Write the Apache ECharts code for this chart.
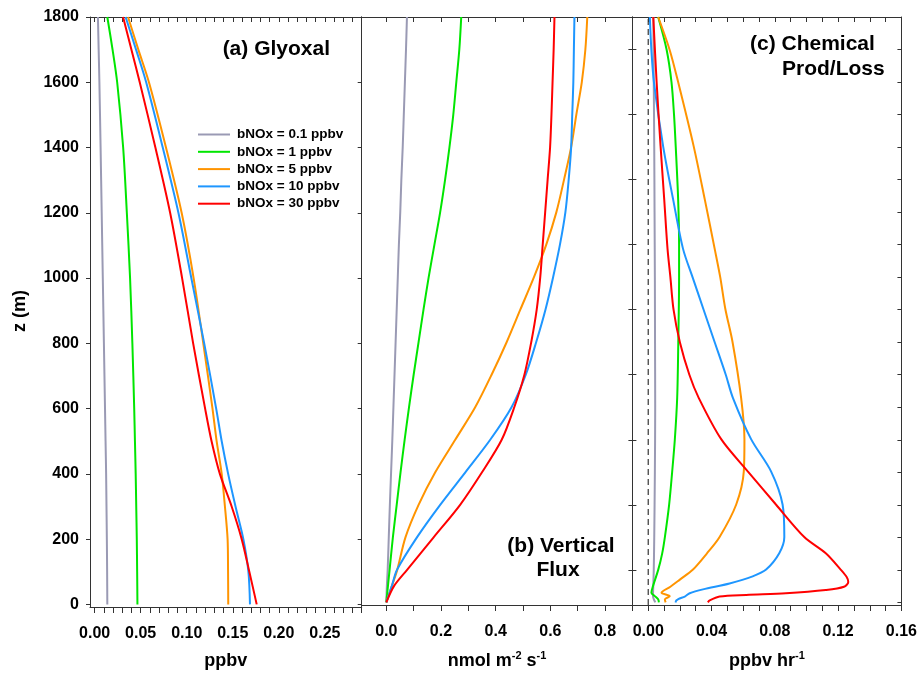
<!DOCTYPE html>
<html><head><meta charset="utf-8">
<script src="https://cdn.jsdelivr.net/npm/echarts@6/dist/echarts.min.js"></script>
<style>html,body{margin:0;padding:0;background:#fff}#c{width:920px;height:675px}</style>
</head><body><div id="c"></div>
<script>
// ---------- data ----------
const seriesNames = ['bNOx = 0.1 ppbv','bNOx = 1 ppbv','bNOx = 5 ppbv','bNOx = 10 ppbv','bNOx = 30 ppbv'];
const colors = ['#9a9ab4','#00e600','#ff9400','#1e96ff','#ff0000'];

// Panel (a) Glyoxal, ppbv
const zA = [0,100,200,300,400,500,600,800,1000,1200,1400,1600,1700,1800];
const glyA_01 = [0.0138,0.0136,0.0133,0.0129,0.0125,0.0119,0.0113,0.0101,0.0089,0.0077,0.0065,0.0052,0.0044,0.0036];
const glyA_1  = [0.0465,0.0462,0.0458,0.0452,0.0446,0.0438,0.0430,0.0410,0.0385,0.0350,0.0310,0.0245,0.0195,0.0138];
const glyA_5  = [0.1451,0.1449,0.1444,0.1415,0.1380,0.1325,0.1280,0.1180,0.1075,0.0945,0.0775,0.0590,0.0475,0.0363];
const glyA_10 = [0.1687,0.1670,0.1615,0.1530,0.1450,0.1380,0.1320,0.1190,0.1050,0.0910,0.0740,0.0560,0.0450,0.0337];
const glyA_30 = [0.1760,0.1680,0.1597,0.1488,0.1360,0.1270,0.1200,0.1070,0.0950,0.0820,0.0660,0.0490,0.0400,0.0309];

// Panel (b) Vertical flux, nmol m-2 s-1
const zB = [0,50,100,200,300,400,500,600,700,800,900,1000,1100,1200,1300,1400,1500,1600,1700,1800];
const fluxB_01 = [0,0.002,0.005,0.009,0.013,0.0175,0.022,0.026,0.030,0.034,0.038,0.042,0.046,0.051,0.055,0.060,0.064,0.068,0.072,0.0755];
const fluxB_1  = [0,0.006,0.012,0.024,0.038,0.052,0.067,0.083,0.100,0.118,0.136,0.155,0.176,0.197,0.215,0.231,0.245,0.256,0.267,0.274];
const fluxB_5  = [0,0.020,0.040,0.070,0.118,0.179,0.252,0.325,0.385,0.440,0.490,0.540,0.585,0.622,0.650,0.676,0.695,0.715,0.728,0.735];
const fluxB_10 = [0,0.020,0.039,0.112,0.197,0.289,0.380,0.458,0.510,0.548,0.582,0.610,0.635,0.655,0.667,0.676,0.680,0.684,0.686,0.688];
const fluxB_30 = [0,0.028,0.076,0.173,0.270,0.350,0.422,0.468,0.505,0.530,0.550,0.563,0.572,0.581,0.590,0.599,0.604,0.608,0.612,0.615];

// Panel (c) Chemical prod/loss, ppbv hr-1
const zC_01 = [0,10,20,50,100,200,400,600,800,1000,1200,1400,1600,1800];
const chemC_01 = [0.0045,0.0035,0.0030,0.0032,0.0035,0.0038,0.0042,0.0044,0.0043,0.0042,0.0040,0.0038,0.0035,0.0032];
const zC_1 = [0,5,10,20,30,50,100,150,200,300,400,500,629,800,1000,1100,1240,1400,1500,1600,1700,1800];
const chemC_1 = [0.0067,0.0066,0.0062,0.0040,0.0020,0.0030,0.0063,0.0088,0.0105,0.0132,0.0151,0.0168,0.0183,0.0190,0.0195,0.0195,0.0189,0.0174,0.0163,0.0147,0.0116,0.0063];
const zC_5 = [0,9,19,30,48,70,101,150,201,301,403,502,629,800,903,1000,1087,1240,1403,1600,1698,1800];
const chemC_5 = [0.0110,0.0105,0.0136,0.0084,0.0140,0.0200,0.0283,0.0370,0.0451,0.0556,0.0604,0.0608,0.0587,0.0533,0.0487,0.0455,0.0420,0.0357,0.0287,0.0189,0.0136,0.0063];
const zC_10 = [0,3,10,18,28,40,58,80,101,151,201,301,403,502,629,700,800,900,1000,1087,1240,1403,1600,1698,1800];
const chemC_10 = [0.0174,0.0174,0.0190,0.0231,0.0262,0.0346,0.0514,0.0660,0.0745,0.0828,0.0860,0.0849,0.0776,0.0650,0.0535,0.0490,0.0420,0.0350,0.0280,0.0220,0.0157,0.0094,0.0036,0.0020,0.0010];
const zC_30 = [0,1,6,18,23,28,38,48,63,78,101,151,201,301,403,502,629,700,800,900,1000,1087,1240,1403,1600,1800];
const chemC_30 = [0.0377,0.0377,0.0388,0.0451,0.0619,0.0870,0.1122,0.1237,0.1264,0.1254,0.1216,0.1122,0.0986,0.0807,0.0629,0.0461,0.0319,0.0260,0.0200,0.0160,0.0140,0.0122,0.0101,0.0078,0.0053,0.0032];

// tick labels
const yTickLabels = [0,200,400,600,800,1000,1200,1400,1600,1800];
const xTickLabelsA = [0,0.05,0.10,0.15,0.20,0.25];
const xTickLabelsB = [0,0.2,0.4,0.6,0.8];
const xTickLabelsC = [0,0.04,0.08,0.12,0.16];

// ---------- build ----------
const FONT = '"Liberation Sans", Arial, Helvetica, sans-serif';
const AX = '#333';
function range(a, b, s){ const r=[]; for(let v=a; v<=b+1e-9; v+=s) r.push(Math.round(v*1e6)/1e6); return r; }
function zip(xs, zs){ return xs.map((x,i)=>[x, zs[i]]); }

const grids = [
  {left:90, top:17, width:271.7, height:591.3},
  {left:361.7, top:17, width:270.7, height:591.3},
  {left:632.4, top:17, width:270.9, height:591.3}
];
const xRanges = [[-0.005,0.29],[-0.09,0.9],[-0.01,0.16]];
const xMinorTicks = [range(0,0.29,0.01), range(0,0.9,0.1), range(0,0.16,0.01)];
const xLabels = [xTickLabelsA, xTickLabelsB, xTickLabelsC];
const xDigits = [2,1,2];
const xNames = ['ppbv','{b|nmol m}{s|-2}{b| s}{s|-1}','{b|ppbv hr}{s|-1}'];

const nameRich = {
  b:{fontSize:18, fontWeight:'bold', fontFamily:FONT, color:'#000', lineHeight:22},
  s:{fontSize:11, fontWeight:'bold', fontFamily:FONT, color:'#000', lineHeight:10, verticalAlign:'top'}
};

const xAxis = [];
for (let i=0;i<3;i++){
  xAxis.push({
    type:'value', gridIndex:i, min:xRanges[i][0], max:xRanges[i][1], position:'bottom',
    splitLine:{show:false},
    axisLine:{show:true, onZero:false, lineStyle:{color:AX, width:1}},
    axisTick:{show:true, inside:false, length:6, customValues:xMinorTicks[i], lineStyle:{color:AX}},
    axisLabel:{show:true, customValues:xLabels[i], margin:19, fontSize:16, fontWeight:'bold', fontFamily:FONT, color:'#000',
      formatter:(v)=>Number(v).toFixed(xDigits[i])},
    name:xNames[i], nameLocation:'middle', nameGap:45,
    nameTextStyle:{fontSize:18, fontWeight:'bold', fontFamily:FONT, color:'#000', rich:nameRich}
  });
  xAxis.push({
    type:'value', gridIndex:i, min:xRanges[i][0], max:xRanges[i][1], position:'top',
    splitLine:{show:false},
    axisLine:{show:true, onZero:false, lineStyle:{color:AX, width:1}},
    axisTick:{show:true, inside:true, length:5, customValues:xMinorTicks[i], lineStyle:{color:AX}},
    axisLabel:{show:false}
  });
}

const yBase = {type:'value', min:-8, max:1800, splitLine:{show:false}};
const yAxis = [
  Object.assign({}, yBase, {gridIndex:0, position:'left',
    axisLine:{show:true, onZero:false, lineStyle:{color:AX}},
    axisTick:{show:true, inside:false, length:4, customValues:yTickLabels, lineStyle:{color:AX}},
    axisLabel:{show:true, customValues:yTickLabels, margin:11, fontSize:16, fontWeight:'bold', fontFamily:FONT, color:'#000',
      formatter:(v)=>String(Math.round(v))}}),
  Object.assign({}, yBase, {gridIndex:0, position:'right',
    axisLine:{show:true, onZero:false, lineStyle:{color:AX}},
    axisTick:{show:true, inside:true, length:4, customValues:yTickLabels, lineStyle:{color:AX}},
    axisLabel:{show:false}}),
  Object.assign({}, yBase, {gridIndex:1, position:'left',
    axisLine:{show:true, onZero:false, lineStyle:{color:AX}},
    axisTick:{show:false}, axisLabel:{show:false}}),
  Object.assign({}, yBase, {gridIndex:1, position:'right',
    axisLine:{show:true, onZero:false, lineStyle:{color:AX}},
    axisTick:{show:true, inside:true, length:4, customValues:range(100,1700,200), lineStyle:{color:AX}},
    axisLabel:{show:false}}),
  Object.assign({}, yBase, {gridIndex:2, position:'left',
    axisLine:{show:true, onZero:false, lineStyle:{color:AX}},
    axisTick:{show:true, inside:true, length:4, customValues:range(100,1700,200), lineStyle:{color:AX}},
    axisLabel:{show:false}}),
  Object.assign({}, yBase, {gridIndex:2, position:'right',
    axisLine:{show:true, onZero:false, lineStyle:{color:AX}},
    axisTick:{show:true, inside:true, length:4, customValues:range(0,1800,100), lineStyle:{color:AX}},
    axisLabel:{show:false}})
];

const panelData = [
  [[glyA_01,zA],[glyA_1,zA],[glyA_5,zA],[glyA_10,zA],[glyA_30,zA]],
  [[fluxB_01,zB],[fluxB_1,zB],[fluxB_5,zB],[fluxB_10,zB],[fluxB_30,zB]],
  [[chemC_01,zC_01],[chemC_1,zC_1],[chemC_5,zC_5],[chemC_10,zC_10],[chemC_30,zC_30]]
];
const yIdx = [0,2,4];
const series = [];
for (let p=0;p<3;p++){
  for (let k=0;k<5;k++){
    series.push({
      type:'line', name:seriesNames[k], xAxisIndex:p*2, yAxisIndex:yIdx[p],
      data:zip(panelData[p][k][0], panelData[p][k][1]),
      showSymbol:false, symbol:'none', smooth:0.3,
      lineStyle:{color:colors[k], width:2}, itemStyle:{color:colors[k]},
      z: 3, silent:true, animation:false
    });
  }
}
series.push({
  type:'line', name:'zero', xAxisIndex:4, yAxisIndex:4, data:[[0,-8],[0,1800]],
  showSymbol:false, symbol:'none', lineStyle:{color:'#333', width:1.2, type:[6,4]}, z:2, silent:true, animation:false
});

const T = (text, x, y, align, size) => ({type:'text', x, y, style:{text, font:'bold '+size+'px '+FONT, fill:'#000', textAlign:align, textVerticalAlign:'middle'}});

const option = {
  animation:false,
  backgroundColor:'#fff',
  grid:grids,
  xAxis, yAxis, series,
  legend:{
    data:seriesNames, orient:'vertical', left:198, top:127.5, padding:0, itemWidth:32, itemHeight:14, itemGap:3.3,
    icon:'path://M0,6 L32,6 L32,8 L0,8 Z',
    textStyle:{fontSize:13.5, fontWeight:'bold', fontFamily:FONT, color:'#000', padding:[0,0,0,2]},
    selectedMode:false
  },
  graphic:[
    T('(a) Glyoxal', 330, 49, 'right', 21),
    T('(b) Vertical', 561, 546, 'center', 21),
    T('Flux', 558, 570, 'center', 21),
    T('(c) Chemical', 750, 44, 'left', 21),
    T('Prod/Loss', 782, 69, 'left', 21),
    {type:'text', x:20, y:311, rotation:Math.PI/2, style:{text:'z (m)', font:'bold 18px '+FONT, fill:'#000', textAlign:'center', textVerticalAlign:'middle'}}
  ]
};
const chart = echarts.init(document.getElementById('c'), null, {renderer:'canvas'});
chart.setOption(option);
</script></body></html>
